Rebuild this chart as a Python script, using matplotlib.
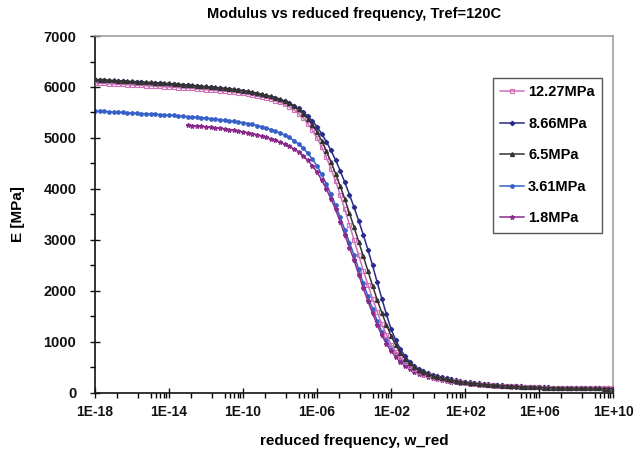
"""Storage modulus master curves at Tref = 120C for five stress levels."""
import matplotlib
matplotlib.use("Agg")
import matplotlib.pyplot as plt
import matplotlib.ticker as mticker
import numpy as np

plt.rcParams['font.family'] = ['Liberation Sans', 'DejaVu Sans']
plt.rcParams['font.weight'] = 'bold'

# log10 of reduced frequency, quarter-decade grid (rows of two decades)
log_w = [-18.0, -17.75, -17.5, -17.25, -17.0, -16.75, -16.5, -16.25,
         -16.0, -15.75, -15.5, -15.25, -15.0, -14.75, -14.5, -14.25,
         -14.0, -13.75, -13.5, -13.25, -13.0, -12.75, -12.5, -12.25,
         -12.0, -11.75, -11.5, -11.25, -11.0, -10.75, -10.5, -10.25,
         -10.0, -9.75, -9.5, -9.25, -9.0, -8.75, -8.5, -8.25,
         -8.0, -7.75, -7.5, -7.25, -7.0, -6.75, -6.5, -6.25,
         -6.0, -5.75, -5.5, -5.25, -5.0, -4.75, -4.5, -4.25,
         -4.0, -3.75, -3.5, -3.25, -3.0, -2.75, -2.5, -2.25,
         -2.0, -1.75, -1.5, -1.25, -1.0, -0.75, -0.5, -0.25,
         0.0, 0.25, 0.5, 0.75, 1.0, 1.25, 1.5, 1.75,
         2.0, 2.25, 2.5, 2.75, 3.0, 3.25, 3.5, 3.75,
         4.0, 4.25, 4.5, 4.75, 5.0, 5.25, 5.5, 5.75,
         6.0, 6.25, 6.5, 6.75, 7.0, 7.25, 7.5, 7.75,
         8.0, 8.25, 8.5, 8.75, 9.0, 9.25, 9.5, 9.75,
         10.0]

# E [MPa] per stress level
e_12_27 = [6080, 6075, 6070, 6065, 6060, 6055, 6050, 6045,
           6040, 6035, 6030, 6025, 6020, 6015, 6010, 6005,
           6000, 5995, 5990, 5985, 5980, 5972, 5965, 5958,
           5950, 5942, 5935, 5928, 5920, 5910, 5900, 5890,
           5880, 5866, 5850, 5832, 5810, 5786, 5760, 5732,
           5700, 5658, 5610, 5550, 5480, 5390, 5280, 5150,
           5000, 4820, 4620, 4395, 4150, 3880, 3600, 3300,
           3000, 2700, 2400, 2120, 1850, 1590, 1350, 1140,
           950, 810, 700, 608, 530, 470, 420, 382,
           350, 323, 300, 279, 260, 243, 228, 213,
           200, 189, 180, 172, 165, 158, 152, 146,
           140, 136, 132, 128, 125, 121, 117, 113,
           110, 107, 105, 102, 100, 98, 97, 96,
           95, 94, 93, 92, 92, 91, 91, 90,
           90]
e_8_66 = [6140, 6135, 6130, 6125, 6120, 6115, 6110, 6105,
          6100, 6095, 6090, 6085, 6080, 6075, 6070, 6065,
          6060, 6052, 6045, 6038, 6030, 6022, 6015, 6008,
          6000, 5992, 5985, 5975, 5965, 5955, 5945, 5933,
          5920, 5905, 5890, 5870, 5850, 5828, 5805, 5778,
          5750, 5716, 5680, 5633, 5580, 5510, 5430, 5332,
          5220, 5082, 4930, 4755, 4570, 4355, 4130, 3890,
          3640, 3375, 3100, 2805, 2500, 2170, 1850, 1540,
          1250, 1035, 860, 725, 610, 532, 470, 423,
          385, 355, 330, 306, 285, 265, 248, 233,
          220, 207, 196, 186, 177, 169, 162, 156,
          150, 144, 139, 134, 130, 126, 122, 118,
          115, 112, 109, 106, 104, 102, 100, 98,
          97, 95, 94, 93, 92, 91, 90, 89,
          88]
e_6_5 = [6150, 6145, 6140, 6135, 6130, 6125, 6120, 6115,
         6110, 6105, 6100, 6095, 6090, 6085, 6080, 6075,
         6070, 6062, 6055, 6048, 6040, 6032, 6025, 6018,
         6010, 6002, 5995, 5985, 5975, 5965, 5955, 5943,
         5930, 5915, 5900, 5880, 5860, 5838, 5815, 5790,
         5760, 5722, 5680, 5625, 5560, 5478, 5380, 5260,
         5120, 4945, 4750, 4530, 4300, 4055, 3800, 3525,
         3250, 2965, 2680, 2390, 2100, 1825, 1570, 1335,
         1120, 940, 790, 675, 580, 508, 450, 405,
         370, 340, 315, 292, 270, 252, 235, 222,
         210, 198, 188, 179, 170, 163, 156, 150,
         145, 139, 134, 129, 125, 121, 117, 113,
         110, 107, 104, 102, 100, 98, 97, 95,
         94, 93, 92, 91, 90, 88, 87, 86,
         85]
e_3_61 = [5530, 5525, 5520, 5515, 5510, 5505, 5500, 5495,
          5490, 5485, 5480, 5475, 5470, 5465, 5460, 5455,
          5450, 5442, 5435, 5428, 5420, 5412, 5405, 5398,
          5390, 5380, 5370, 5360, 5350, 5338, 5325, 5313,
          5300, 5284, 5265, 5244, 5220, 5194, 5165, 5134,
          5100, 5058, 5010, 4950, 4880, 4797, 4700, 4585,
          4450, 4285, 4100, 3895, 3680, 3445, 3200, 2950,
          2700, 2425, 2150, 1895, 1650, 1415, 1200, 1030,
          880, 755, 650, 570, 500, 446, 400, 365,
          335, 310, 288, 268, 250, 234, 220, 207,
          195, 185, 176, 168, 160, 154, 148, 143,
          138, 134, 130, 126, 122, 119, 116, 113,
          110, 107, 105, 102, 100, 98, 97, 96,
          95, 94, 93, 91, 90, 90, 89, 88,
          88]
# 1.8MPa run starts at 1E-13
e_1_8 = [5250, 5245, 5240, 5230,
         5220, 5210, 5200, 5190, 5180, 5165, 5150, 5135,
         5120, 5103, 5085, 5063, 5040, 5013, 4985, 4953,
         4920, 4880, 4835, 4785, 4730, 4652, 4560, 4453,
         4330, 4175, 4000, 3805, 3600, 3355, 3100, 2850,
         2600, 2320, 2050, 1800, 1560, 1335, 1130, 965,
         820, 705, 610, 535, 470, 420, 380, 348,
         320, 296, 275, 256, 240, 225, 212, 200,
         190, 180, 170, 162, 155, 149, 144, 139,
         135, 131, 127, 123, 120, 117, 114, 111,
         108, 106, 104, 102, 100, 99, 98, 97,
         96, 95, 95, 95, 95, 95, 96, 97,
         98]

labels = ['12.27MPa', '8.66MPa', '6.5MPa', '3.61MPa', '1.8MPa']

w = 10.0 ** np.array(log_w)
w_18 = w[len(w) - len(e_1_8):]

fig = plt.figure(figsize=(6.34, 4.54), dpi=100)
ax = fig.add_axes([0.150, 0.1344, 0.817, 0.7863])

styles = [
    dict(color='#d070b8', marker='s', ms=3.0, mfc='none', mew=0.8, zorder=4),
    dict(color='#2a2a8a', marker='D', ms=2.2, zorder=3),
    dict(color='#333333', marker='^', ms=2.8, zorder=5),
    dict(color='#3560c8', marker='o', ms=2.4, zorder=2),
    dict(color='#8a2a8a', marker='*', ms=3.2, zorder=2),
]
series = [(w, e_12_27), (w, e_8_66), (w, e_6_5), (w, e_3_61), (w_18, e_1_8)]

for (x, y), lab, st in zip(series, labels, styles):
    ax.plot(x, y, lw=1.1, label=lab, **st)

ax.set_xscale('log')
ax.set_xlim(1e-18, 1e10)
ax.set_ylim(0, 7000)

majors = [10.0 ** p for p in range(-18, 11, 4)]
ax.xaxis.set_major_locator(mticker.FixedLocator(majors))
ax.xaxis.set_major_formatter(mticker.FuncFormatter(
    lambda v, _: '1E{:+03d}'.format(int(round(np.log10(v))))))
minor_offsets = [1.2, 2.3, 3.0, 3.3, 3.5, 3.7, 3.85]
ax.xaxis.set_minor_locator(mticker.FixedLocator(
    [m * 10.0 ** d for m in majors[:-1] for d in minor_offsets]))
ax.xaxis.set_minor_formatter(mticker.NullFormatter())

ax.yaxis.set_major_locator(mticker.MultipleLocator(1000))
ax.yaxis.set_minor_locator(mticker.MultipleLocator(500))

ax.tick_params(which='major', direction='inout', length=7, width=1.0,
               labelsize=10, colors='#111111', pad=5)
ax.tick_params(axis='y', which='major', labelsize=10.5, pad=10)
ax.tick_params(which='minor', direction='out', length=3.5, width=1.0)

for side in ('left', 'bottom'):
    ax.spines[side].set_color('#111111')
    ax.spines[side].set_linewidth(1.2)
for side in ('top', 'right'):
    ax.spines[side].set_color('#a0a0a0')
    ax.spines[side].set_linewidth(1.2)

ax.set_title('Modulus vs reduced frequency, Tref=120C', fontsize=10.5,
             fontweight='bold', pad=13)
ax.set_xlabel('reduced frequency, w_red', fontsize=11, fontweight='bold',
              labelpad=11)
ax.set_ylabel('E [MPa]', fontsize=11, fontweight='bold', labelpad=13)

leg = ax.legend(loc='upper left', bbox_to_anchor=(493 / 634, 1 - 78 / 454),
                bbox_transform=fig.transFigure, borderaxespad=0,
                fancybox=False, framealpha=1, edgecolor='#555555',
                fontsize=10.5, handlelength=1.6, handletextpad=0.3,
                labelspacing=1.2, borderpad=0.5)
leg.get_frame().set_linewidth(1.0)

fig.savefig('out.png', dpi=100)
